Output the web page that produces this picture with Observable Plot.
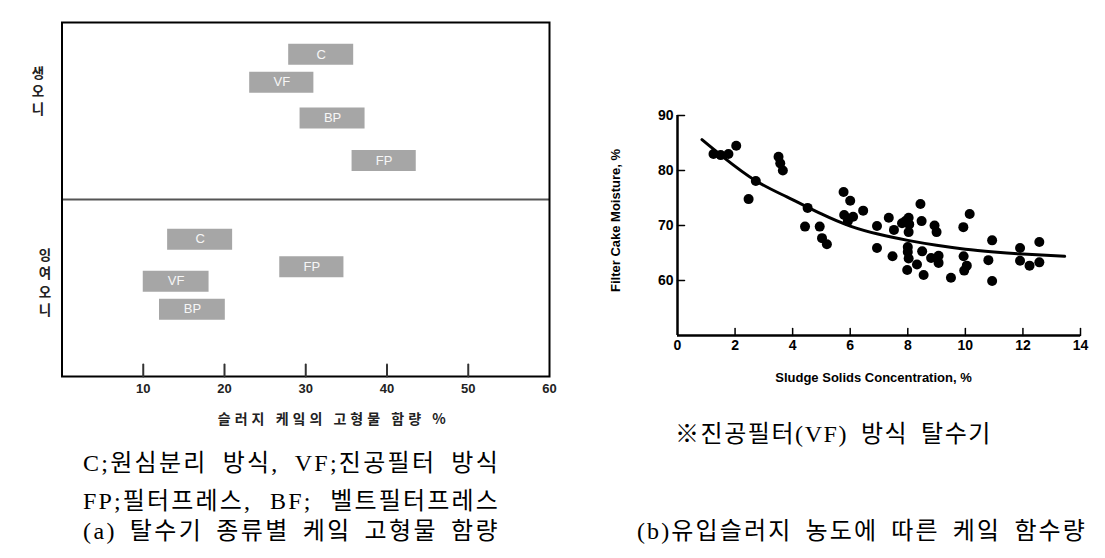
<!DOCTYPE html>
<html><head><meta charset="utf-8">
<script src="https://cdn.jsdelivr.net/npm/d3@7"></script>
<script src="https://cdn.jsdelivr.net/npm/@observablehq/plot@0.6"></script>
<style>
html,body{margin:0;padding:0;background:#fff;}
#page{position:relative;width:1105px;height:558px;overflow:hidden;background:#fff;}
.chart{position:absolute;}
.cap{position:absolute;white-space:nowrap;font-family:"Liberation Serif","Noto Sans CJK KR",serif;font-size:24px;color:#000;line-height:1;transform:translate(-50%,-50%);}
.pch{position:absolute;font-family:"Noto Sans CJK KR",sans-serif;font-weight:700;font-size:13.5px;color:#222;line-height:1;white-space:nowrap;transform:translate(-50%,-50%);}
</style></head>
<body><div id="page"></div>
<script>
// ---------- (a) cake solids by dewatering type ----------
const panels = ["생오니", "잉여오니"];
const types = ["C", "VF", "BP", "FP"];
const rawLow  = [27.9, 23.1, 29.3, 35.7];
const rawHigh = [35.9, 31.0, 37.3, 43.6];
const rawRow  = [9.0, 16.9, 27.0, 39.0];
const exLow   = [13.0, 10.0, 12.0, 26.8];
const exHigh  = [21.0, 18.1, 20.1, 34.7];
const exRow   = [61.2, 73.1, 81.0, 69.0];
const panelDivide = 50;
const xTicksA = [10, 20, 30, 40, 50, 60];
const xTitleA = "슬러지 케잌의 고형물 함량 %";

// ---------- (b) cake moisture vs sludge concentration ----------
const sludgeX = [1.25,1.5,1.77,2.04,2.47,2.72,3.51,3.57,3.66,4.52,4.43,4.94,5.02,5.19,5.77,5.79,6.0,5.92,6.1,6.45,
  6.93,6.93,7.34,7.47,7.52,7.8,7.92,8.03,8.05,8.03,8.0,8.0,8.03,7.98,8.32,8.44,8.48,8.5,8.55,8.93,
  9.0,8.81,9.07,9.07,9.5,9.93,9.94,9.96,10.05,10.15,10.8,10.93,10.93,11.9,11.9,12.23,12.57,12.57];
const moistY = [83.0,82.8,83.0,84.5,74.8,78.1,82.5,81.3,80.0,73.2,69.8,69.8,67.7,66.6,76.1,71.9,74.5,70.8,71.6,72.7,
  69.9,65.9,71.4,64.4,69.2,70.4,70.8,71.4,70.2,68.8,66.1,65.2,64.0,61.9,62.9,73.9,70.8,65.3,61.0,70.0,
  68.8,64.1,64.5,63.2,60.5,69.7,64.4,61.8,62.7,72.1,63.7,67.3,59.9,65.9,63.6,62.7,67.0,63.3];
const fitX = [0.85, 1.6, 2.7, 3.8, 5.0, 6.0, 7.0, 8.0, 9.0, 10.0, 11.0, 12.0, 13.45];
const fitY = [85.6, 82.4, 78.2, 75.2, 72.1, 69.9, 68.4, 67.3, 66.4, 65.7, 65.2, 64.8, 64.4];
const xTicksB = [0, 2, 4, 6, 8, 10, 12, 14];
const yTicksB = [60, 70, 80, 90];
const xTitleB = "Sludge Solids Concentration, %";
const yTitleB = "Filter Cake Moisture, %";

// ---------- captions ----------
const captions = [
  {text: "C;원심분리 방식, VF;진공필터 방식", cx: 291.5, cy: 463, w: 417},
  {text: "FP;필터프레스, BF; 벨트필터프레스", cx: 291.5, cy: 501, w: 417},
  {text: "(a) 탈수기 종류별 케잌 고형물 함량", cx: 291.5, cy: 531, w: 417},
  {text: "※진공필터(VF) 방식 탈수기", cx: 833.5, cy: 434, w: 317},
  {text: "(b)유입슬러지 농도에 따른 케잌 함수량", cx: 862, cy: 531, w: 450}
];

const page = document.getElementById("page");
const tickUp = {draw(ctx, l) { ctx.moveTo(0, 0); ctx.lineTo(0, -l); }};
const tickRight = {draw(ctx, l) { ctx.moveTo(0, 0); ctx.lineTo(l, 0); }};

const bars = [];
types.forEach((t, i) => bars.push({panel: panels[0], type: t, lo: rawLow[i], hi: rawHigh[i], row: rawRow[i]}));
types.forEach((t, i) => bars.push({panel: panels[1], type: t, lo: exLow[i], hi: exHigh[i], row: exRow[i]}));

const chartA = Plot.plot({
  width: 560, height: 430,
  marginLeft: 61.5, marginRight: 11, marginTop: 22, marginBottom: 54,
  x: {domain: [0, 60]},
  y: {domain: [0, 100], reverse: true, axis: null},
  style: {fontFamily: "'Liberation Sans', Arial, sans-serif", background: "#fff", color: "#000"},
  marks: [
    Plot.ruleY([panelDivide], {stroke: "#555", strokeWidth: 2}),
    Plot.ruleY(bars, {y: "row", x1: "lo", x2: "hi", stroke: "#a6a6a6", strokeWidth: 21}),
    Plot.text(bars, {y: "row", x: d => (d.lo + d.hi) / 2, text: "type", fill: "#f6f6f6", fontSize: 13}),
    Plot.frame({stroke: "#000", strokeWidth: 2}),
    Plot.vector(xTicksA.slice(0, 5), {x: d => d, frameAnchor: "bottom", length: 12, anchor: "start", shape: tickUp, stroke: "#333", strokeWidth: 2}),
    Plot.axisX(xTicksA, {tickSize: 0, tickPadding: 7, fontSize: 13, fontWeight: "bold", label: null, fill: "#222"}),
    Plot.text([xTitleA], {frameAnchor: "bottom", lineAnchor: "middle", textAnchor: "middle", dx: 28, dy: 43, fontSize: 14, fontWeight: "bold", fontFamily: "'Noto Sans CJK KR', sans-serif", fill: "#222"})
  ]
});
const wrapA = document.createElement("div");
wrapA.className = "chart"; wrapA.style.left = "0px"; wrapA.style.top = "0px";
wrapA.appendChild(chartA); page.appendChild(wrapA);
d3.select(chartA).selectAll("text").filter(function() { return this.textContent === xTitleA; }).attr("letter-spacing", "4px");

const pts = sludgeX.map((x, i) => ({x, y: moistY[i]}));
const fit = fitX.map((x, i) => ({x, y: fitY[i]}));
const chartB = Plot.plot({
  width: 505, height: 300,
  marginLeft: 77, marginRight: 25, marginTop: 15, marginBottom: 65,
  x: {domain: [0, 14]},
  y: {domain: [50, 90]},
  style: {fontFamily: "'Liberation Sans', Arial, sans-serif", background: "#fff", color: "#000"},
  marks: [
    Plot.ruleX([0], {stroke: "#000", strokeWidth: 2.5}),
    Plot.ruleY([50], {stroke: "#000", strokeWidth: 2.5}),
    Plot.vector(xTicksB.slice(1), {x: d => d, frameAnchor: "bottom", length: 7, anchor: "start", shape: tickUp, stroke: "#000", strokeWidth: 1.5}),
    Plot.vector(yTicksB, {y: d => d, frameAnchor: "left", length: 7, anchor: "start", shape: tickRight, stroke: "#000", strokeWidth: 1.5}),
    Plot.axisX(xTicksB, {tickSize: 0, tickPadding: 5, fontSize: 14, fontWeight: "bold", label: null}),
    Plot.axisY(yTicksB, {tickSize: 0, tickPadding: 4, fontSize: 14, fontWeight: "bold", label: null}),
    Plot.line(fit, {x: "x", y: "y", curve: "natural", stroke: "#000", strokeWidth: 3}),
    Plot.dot(pts, {x: "x", y: "y", r: 5, fill: "#000"}),
    Plot.text([xTitleB], {frameAnchor: "bottom", lineAnchor: "middle", textAnchor: "middle", dx: -5.5, dy: 42.5, fontSize: 13, fontWeight: "bold"}),
    Plot.text([yTitleB], {frameAnchor: "left", lineAnchor: "middle", textAnchor: "middle", rotate: -90, dx: -62, dy: -5, fontSize: 13, fontWeight: "bold"})
  ]
});
const wrapB = document.createElement("div");
wrapB.className = "chart"; wrapB.style.left = "600px"; wrapB.style.top = "100px";
wrapB.appendChild(chartB); page.appendChild(wrapB);

// panel labels: upright characters stacked in a column
function stackLabel(text, cx, cy0, step) {
  text.split("").forEach((ch, i) => {
    const d = document.createElement("div");
    d.className = "pch";
    d.style.left = cx + "px";
    d.style.top = (cy0 + i * step) + "px";
    d.textContent = ch;
    page.appendChild(d);
  });
}
stackLabel(panels[0], 38, 72.5, 18);
stackLabel(panels[1], 45, 255, 18.3);

// captions, fitted to the widths
captions.forEach(c => {
  const d = document.createElement("div");
  d.className = "cap";
  d.style.left = c.cx + "px"; d.style.top = c.cy + "px";
  d.textContent = c.text;
  page.appendChild(d);
  const natural = d.getBoundingClientRect().width;
  const extra = c.w - natural;
  const n = c.text.length;
  const nSpaces = (c.text.match(/ /g) || []).length;
  if (extra > 0 && nSpaces) {
    d.style.letterSpacing = (extra * 0.7 / n) + "px";
    d.style.wordSpacing = (extra * 0.3 / nSpaces) + "px";
  } else {
    d.style.letterSpacing = (extra / n) + "px";
  }
});
</script>
</body></html>
